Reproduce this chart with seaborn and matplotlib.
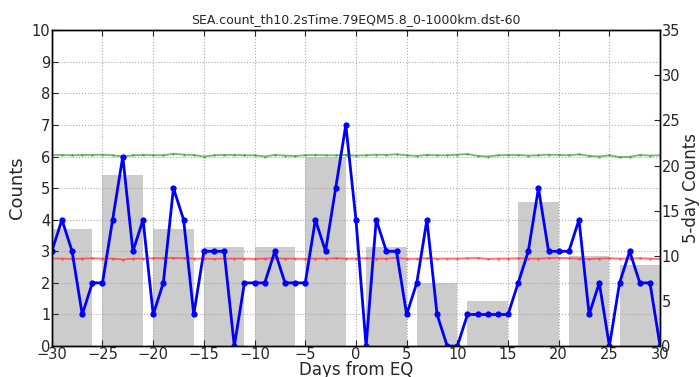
import numpy as np
import pandas as pd
import matplotlib
matplotlib.use("Agg")
import matplotlib.pyplot as plt
import seaborn as sns

days = list(range(-30, 31))
counts = [3, 4, 3, 1, 2, 2, 4, 6, 3, 4,
          1, 2, 5, 4, 1, 3, 3, 3, 0, 2,
          2, 2, 3, 2, 2, 2, 4, 3, 5, 7,
          4, 0, 4, 3, 3, 1, 2, 4, 1, 0,
          0, 1, 1, 1, 1, 1, 2, 3, 5, 3,
          3, 3, 4, 1, 2, 0, 2, 3, 2, 2, 0]
upper = [6.05, 6.05, 6.04, 6.05, 6.05, 6.06, 6.04, 6.00, 6.04, 6.05,
         6.04, 6.04, 6.09, 6.06, 6.05, 6.00, 6.04, 6.05, 6.05, 6.04,
         6.04, 6.00, 6.05, 6.03, 6.02, 6.04, 6.05, 6.04, 6.04, 6.05,
         6.03, 6.04, 6.06, 6.05, 6.07, 6.04, 6.02, 6.05, 6.04, 6.04,
         6.06, 6.08, 6.02, 6.00, 6.04, 6.05, 6.05, 6.03, 6.04, 6.06,
         6.05, 6.04, 6.07, 6.02, 6.00, 6.04, 5.98, 5.99, 6.05, 6.03, 6.04]
lower = [2.77, 2.77, 2.76, 2.77, 2.78, 2.77, 2.77, 2.74, 2.77, 2.77,
         2.78, 2.78, 2.79, 2.78, 2.77, 2.77, 2.76, 2.77, 2.77, 2.77,
         2.76, 2.77, 2.78, 2.77, 2.77, 2.76, 2.77, 2.77, 2.78, 2.77,
         2.77, 2.78, 2.77, 2.77, 2.79, 2.76, 2.77, 2.78, 2.77, 2.77,
         2.77, 2.78, 2.79, 2.76, 2.77, 2.77, 2.78, 2.77, 2.77, 2.78,
         2.79, 2.78, 2.77, 2.76, 2.77, 2.78, 2.77, 2.77, 2.78, 2.77, 2.76]

bin_starts = [-30, -25, -20, -15, -10, -5, 1, 6, 11, 16, 21, 26]
bin_sums = [13, 19, 13, 11, 11, 21, 11, 7, 5, 16, 10, 9]

df = pd.DataFrame({"day": days, "count": counts, "upper": upper, "lower": lower})

sns.set_style("ticks")
plt.rcParams['font.family'] = ['DejaVu Sans']

fig = plt.figure(figsize=(7.0, 3.77), dpi=100)
ax1 = fig.add_axes([0.074, 0.082, 0.869, 0.838])
ax2 = ax1.twinx()

ax2.bar(bin_starts, bin_sums, width=4, align="edge", color="#cccccc", edgecolor="none", zorder=1)
ax2.set_ylim(0, 35)
ax2.set_yticks(range(0, 36, 5))
ax2.set_ylabel("5-day Counts", fontsize=12, labelpad=1)

ax1.set_zorder(ax2.get_zorder() + 1)
ax1.patch.set_visible(False)

ax1.grid(True, color="#aaaaaa", linestyle=":", linewidth=0.8)
sns.lineplot(data=df, x="day", y="upper", ax=ax1, color="#2ca02c", alpha=0.7,
             marker=".", markersize=3.5, linewidth=1.3, markeredgewidth=0)
sns.lineplot(data=df, x="day", y="lower", ax=ax1, color="#ff3030", alpha=0.7,
             marker=".", markersize=3.5, linewidth=1.3, markeredgewidth=0)
sns.lineplot(data=df, x="day", y="count", ax=ax1, color="blue",
             marker="o", markersize=4.5, linewidth=2, markeredgewidth=0)

ax1.set_xlim(-30, 30)
ax1.set_ylim(0, 10)
ax1.set_xticks(range(-30, 31, 5))
ax1.set_yticks(range(0, 11))
ax1.set_xlabel("Days from EQ", fontsize=12, labelpad=-1)
ax1.set_ylabel("Counts", fontsize=13, labelpad=4)
ax1.set_title("SEA.count_th10.2sTime.79EQM5.8_0-1000km.dst-60", fontsize=9, pad=5)

for ax in (ax1, ax2):
    ax.tick_params(direction="in", labelsize=10.5, length=4, top=True)
    for s in ax.spines.values():
        s.set_color("black")
        s.set_linewidth(1)
        s.set_visible(True)
ax1.tick_params(right=False, pad=1)
ax2.tick_params(left=False, pad=1)

fig.savefig("out.png", dpi=100)
